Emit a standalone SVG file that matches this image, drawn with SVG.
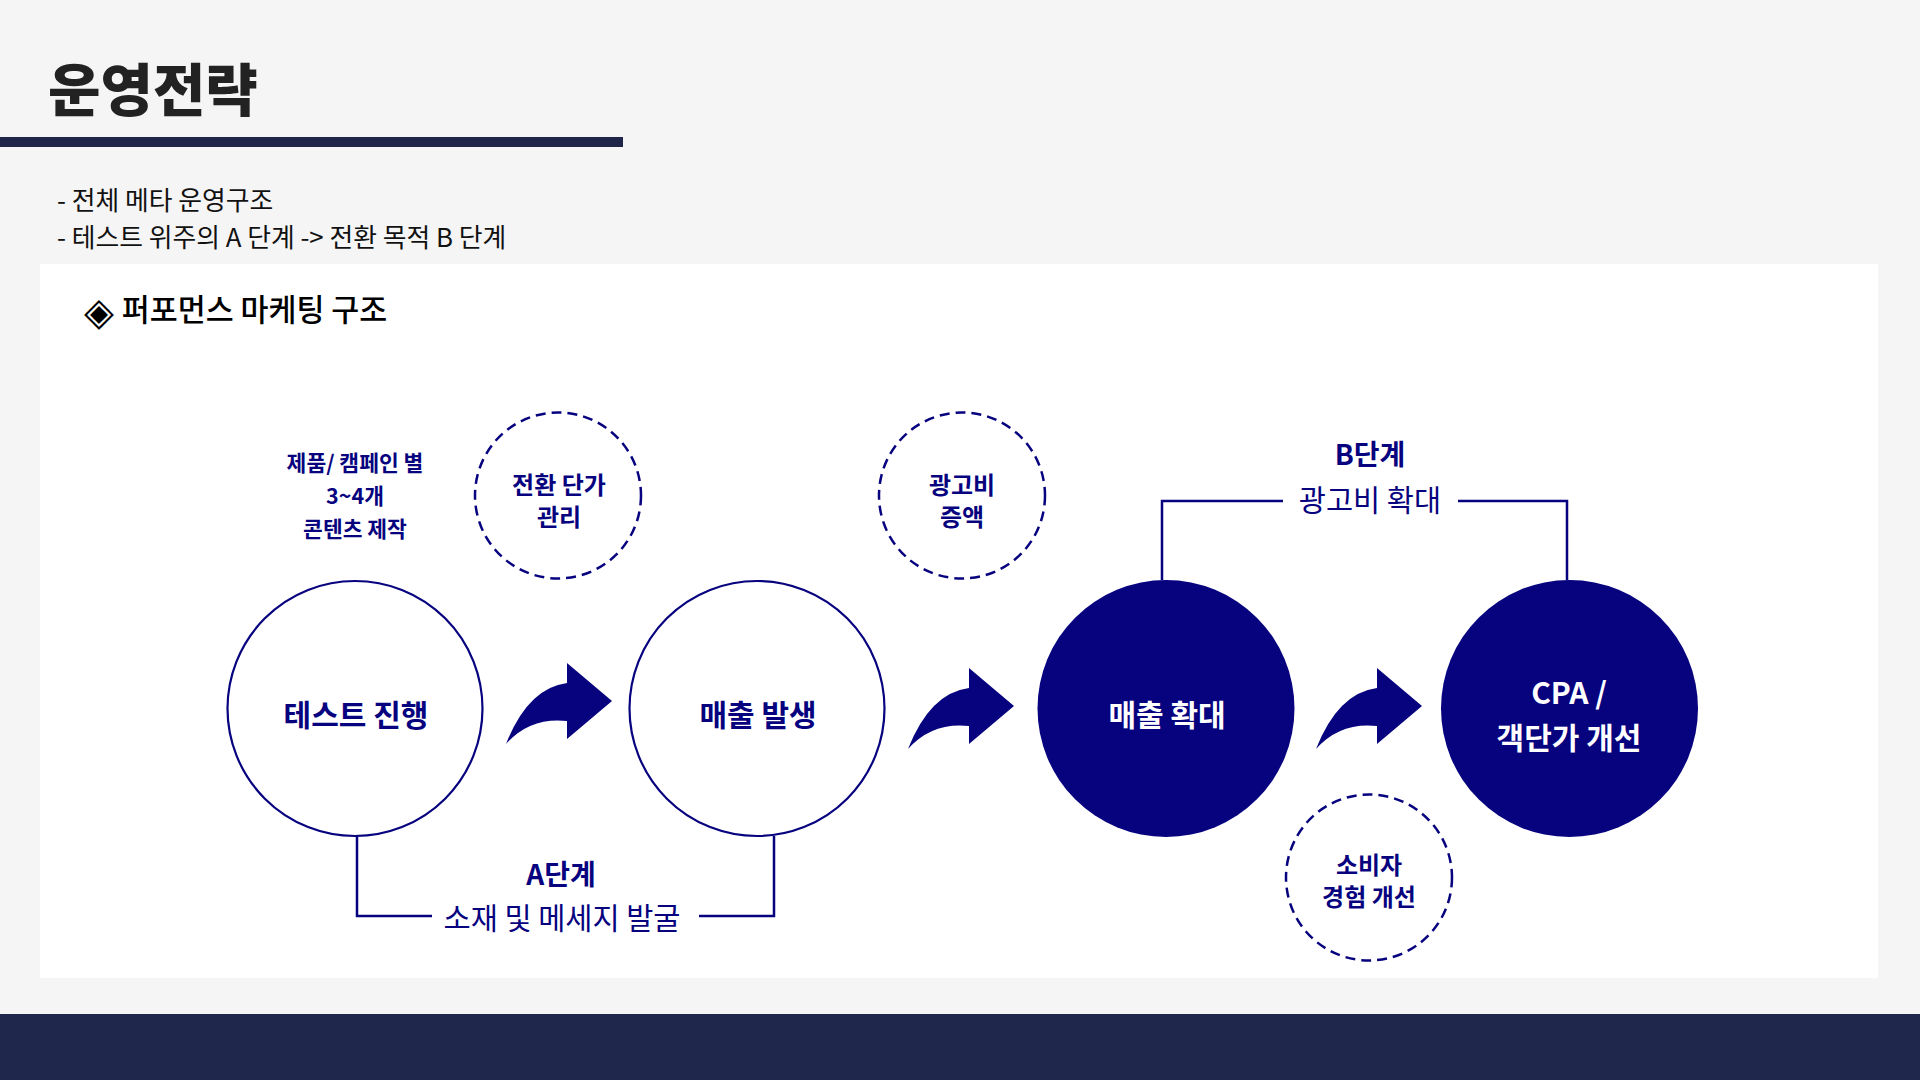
<svg xmlns="http://www.w3.org/2000/svg" width="1920" height="1080" viewBox="0 0 1920 1080">
  <defs>
    <style>
      text { font-family: "Noto Sans CJK KR", "Noto Sans", sans-serif; }
      .title { font-size: 57px; font-weight: 800; fill: #222222; }
      .bullet { font-size: 25.8px; font-weight: 400; fill: #111111; }
      .section { font-size: 30.4px; font-weight: 500; fill: #000000; }
      .main { font-size: 30px; font-weight: 700; text-anchor: middle; }
      .navy { fill: #07037f; }
      .white { fill: #ffffff; }
      .small { font-size: 21.5px; font-weight: 700; fill: #07037f; text-anchor: middle; }
      .sub { font-size: 24px; font-weight: 700; fill: #07037f; text-anchor: middle; }
      .stage { font-size: 28px; font-weight: 700; fill: #07037f; text-anchor: middle; }
      .desc { font-size: 29.5px; font-weight: 400; fill: #07037f; text-anchor: middle; }
      .ring { fill: #ffffff; stroke: #07037f; stroke-width: 2.2; }
      .solid { fill: #07037f; }
      .dashed { fill: none; stroke: #07037f; stroke-width: 2.5; stroke-dasharray: 10 6; }
      .bracket { fill: none; stroke: #07037f; stroke-width: 2.5; }
      .barrow { fill: #07037f; }
    </style>
  </defs>

  <rect x="0" y="0" width="1920" height="1080" fill="#f5f5f5"/>
  <rect x="0" y="137" width="623" height="10" fill="#1f2548"/>
  <rect x="0" y="1014" width="1920" height="66" fill="#1f274c"/>
  <rect x="40" y="264" width="1838" height="714" fill="#ffffff"/>

  <text class="title" x="48" y="111">운영전략</text>
  <text class="bullet" x="57" y="210">- 전체 메타 운영구조</text>
  <text class="bullet" x="57" y="247">- 테스트 위주의 A 단계 -&gt; 전환 목적 B 단계</text>
  <text class="section" y="321"><tspan x="84" y="325" font-size="39">◈</tspan><tspan x="115" y="321"> 퍼포먼스 마케팅 구조</tspan></text>

  <g id="connectors">
    <path class="bracket" d="M357 836 V916 H432 M699 916 H774 V836"/>
    <path class="bracket" d="M1162 580 V501 H1283 M1458 501 H1567 V580"/>
    <path class="barrow" d="M506 744 Q528 688 567 683 L567 663 L612 701 L567 739 L567 721 Q530 717 506 744 Z"/>
    <path class="barrow" transform="translate(402 5)" d="M506 744 Q528 688 567 683 L567 663 L612 701 L567 739 L567 721 Q530 717 506 744 Z"/>
    <path class="barrow" transform="translate(810 5)" d="M506 744 Q528 688 567 683 L567 663 L612 701 L567 739 L567 721 Q530 717 506 744 Z"/>
  </g>

  <g id="node-test">
    <circle class="ring" cx="355" cy="708.5" r="127.5"/>
    <text class="main navy" x="356" y="726">테스트 진행</text>
  </g>
  <g id="node-sales">
    <circle class="ring" cx="757" cy="708.5" r="127.5"/>
    <text class="main navy" x="758" y="726">매출 발생</text>
  </g>
  <g id="node-expand">
    <circle class="solid" cx="1166" cy="708.5" r="128.5"/>
    <text class="main white" x="1167" y="726">매출 확대</text>
  </g>
  <g id="node-cpa">
    <circle class="solid" cx="1569.5" cy="708.5" r="128.5"/>
    <text class="main white" x="1569" y="704">CPA /</text>
    <text class="main white" x="1569" y="749">객단가 개선</text>
  </g>

  <g id="note-content">
    <text class="small" x="355" y="471">제품/ 캠페인 별</text>
    <text class="small" x="355" y="504">3~4개</text>
    <text class="small" x="355" y="537">콘텐츠 제작</text>
  </g>
  <g id="node-unitcost">
    <circle class="dashed" cx="558" cy="495.5" r="83"/>
    <text class="sub" x="559" y="494">전환 단가</text>
    <text class="sub" x="559" y="526">관리</text>
  </g>
  <g id="node-budget">
    <circle class="dashed" cx="962" cy="495.5" r="83"/>
    <text class="sub" x="962" y="494">광고비</text>
    <text class="sub" x="962" y="526">증액</text>
  </g>
  <g id="node-ux">
    <circle class="dashed" cx="1369" cy="877.5" r="83"/>
    <text class="sub" x="1369" y="874">소비자</text>
    <text class="sub" x="1369" y="906">경험 개선</text>
  </g>

  <g id="label-a">
    <text class="stage" x="561" y="885">A단계</text>
    <text class="desc" x="562" y="929">소재 및 메세지 발굴</text>
  </g>
  <g id="label-b">
    <text class="stage" x="1370" y="465">B단계</text>
    <text class="desc" x="1370" y="511">광고비 확대</text>
  </g>
</svg>
